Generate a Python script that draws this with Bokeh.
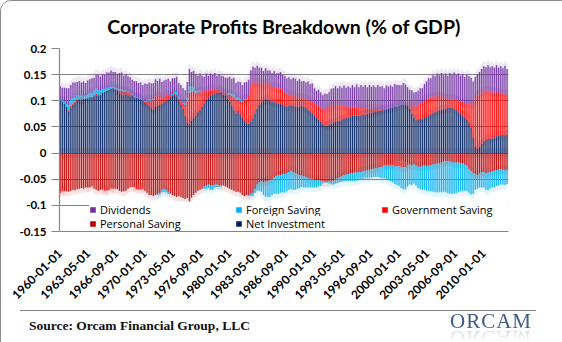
import numpy as np
import pandas as pd
from bokeh.plotting import figure
from bokeh.models import (FixedTicker, Legend, LegendItem, Div, Range1d,
                          NumeralTickFormatter)
from bokeh.layouts import column
from bokeh.embed import file_html
from bokeh.resources import INLINE

# ---------------- DATA (quarterly, 1960Q1 - 2012Q4, share of GDP) ----------------
first_quarter = "1960-01-01"
tick_labels = ["1960-01-01", "1963-05-01", "1966-09-01", "1970-01-01", "1973-05-01",
               "1976-09-01", "1980-01-01", "1983-05-01", "1986-09-01", "1990-01-01",
               "1993-05-01", "1996-09-01", "2000-01-01", "2003-05-01", "2006-09-01",
               "2010-01-01"]

net_investment = [
    .100, .098, .094, .088,  .080, .086, .092, .096,  .100, .102, .101, .103,  .104, .105, .107, .106,
    .108, .110, .109, .111,  .115, .117, .119, .121,  .123, .124, .122, .119,  .114, .111, .110, .112,
    .110, .108, .109, .107,  .106, .105, .103, .100,  .096, .093, .090, .086,  .084, .088, .090, .092,
    .094, .097, .100, .103,  .106, .109, .110, .108,  .100, .092, .085, .072,  .058, .055, .062, .068,
    .072, .078, .082, .088,  .095, .102, .106, .110,  .112, .114, .115, .116,  .115, .112, .110, .104,
    .098, .090, .082, .075,  .080, .074, .068, .062,  .058, .056, .060, .065,  .075, .085, .092, .096,
    .100, .103, .102, .100,  .098, .097, .096, .095,  .094, .092, .090, .089,  .090, .091, .090, .089,
    .088, .089, .090, .088,  .086, .083, .080, .076,  .072, .068, .064, .060,  .055, .052, .052, .054,
    .056, .058, .060, .061,  .062, .064, .066, .067,  .068, .070, .071, .072,  .072, .071, .072, .073,
    .074, .075, .076, .077,  .078, .079, .080, .081,  .082, .083, .084, .085,  .086, .087, .088, .089,
    .090, .092, .093, .093,  .090, .085, .075, .067,  .063, .064, .065, .066,  .067, .069, .072, .074,
    .076, .078, .080, .082,  .083, .084, .085, .086,  .087, .086, .085, .082,  .078, .075, .072, .068,
    .064, .058, .048, .030,  .012, .008, .012, .018,  .022, .025, .027, .028,  .028, .030, .032, .033,
    .034, .035, .034, .035]

personal_saving = [
    -.072, -.070, -.071, -.073,  -.074, -.072, -.070, -.071,  -.069, -.068, -.067, -.068,  -.066, -.065, -.066, -.064,
    -.068, -.070, -.072, -.070,  -.068, -.069, -.070, -.071,  -.066, -.067, -.068, -.069,  -.072, -.074, -.073, -.072,
    -.068, -.066, -.065, -.064,  -.063, -.062, -.064, -.066,  -.072, -.076, -.080, -.080,  -.082, -.080, -.078, -.076,
    -.070, -.068, -.070, -.074,  -.078, -.080, -.082, -.084,  -.082, -.084, -.086, -.088,  -.086, -.092, -.085, -.080,
    -.076, -.072, -.070, -.068,  -.064, -.062, -.060, -.062,  -.062, -.060, -.060, -.061,  -.062, -.062, -.064, -.066,
    -.068, -.070, -.072, -.074,  -.074, -.076, -.080, -.082,  -.080, -.080, -.078, -.076,  -.068, -.060, -.056, -.054,
    -.056, -.055, -.054, -.052,  -.050, -.046, -.044, -.042,  -.042, -.040, -.040, -.038,  -.036, -.034, -.036, -.038,
    -.040, -.042, -.043, -.044,  -.046, -.048, -.049, -.050,  -.051, -.052, -.052, -.053,  -.054, -.056, -.055, -.054,
    -.054, -.053, -.050, -.048,  -.046, -.044, -.042, -.041,  -.040, -.039, -.038, -.037,  -.037, -.036, -.036, -.035,
    -.034, -.033, -.032, -.031,  -.030, -.029, -.028, -.027,  -.026, -.024, -.022, -.020,  -.019, -.018, -.017, -.016,
    -.015, -.015, -.016, -.018,  -.020, -.022, -.024, -.022,  -.024, -.026, -.026, -.025,  -.024, -.025, -.024, -.023,
    -.022, -.021, -.020, -.019,  -.018, -.016, -.015, -.015,  -.016, -.017, -.018, -.018,  -.018, -.019, -.020, -.022,
    -.024, -.030, -.034, -.038,  -.040, -.042, -.038, -.036,  -.036, -.038, -.037, -.036,  -.035, -.034, -.033, -.032,
    -.031, -.032, -.033, -.032]

government_saving = [
    -.004, -.003, -.002, .000,  .002, .004, .003, .002,  .002, .001, .002, .001,  .000, -.001, .000, .001,
    .002, .003, .002, .001,  -.002, -.003, -.002, .000,  -.002, -.001, .000, .002,  .005, .008, .007, .006,
    .006, .005, .002, -.002,  -.006, -.007, -.005, -.003,  .002, .006, .010, .014,  .018, .020, .019, .018,
    .012, .010, .012, .008,  .004, .002, .003, .003,  .004, .006, .010, .020,  .040, .060, .055, .050,
    .042, .038, .035, .030,  .022, .018, .014, .012,  .010, .008, .006, .005,  .004, .003, .005, .008,
    .014, .020, .024, .026,  .022, .025, .030, .040,  .045, .055, .065, .070,  .060, .050, .042, .036,
    .032, .030, .030, .030,  .028, .030, .030, .029,  .030, .030, .026, .025,  .022, .020, .020, .022,
    .018, .017, .016, .016,  .016, .018, .020, .022,  .022, .024, .026, .028,  .030, .032, .034, .034,
    .036, .034, .032, .030,  .028, .026, .024, .022,  .020, .018, .018, .016,  .016, .015, .014, .013,
    .012, .010, .009, .008,  .006, .005, .004, .003,  .002, .000, -.002, -.004,  -.005, -.006, -.008, -.009,
    -.010, -.012, -.011, -.009,  -.004, .005, .015, .022,  .026, .029, .030, .031,  .032, .034, .033, .032,
    .031, .030, .029, .027,  .024, .022, .020, .018,  .016, .017, .018, .020,  .022, .024, .026, .028,
    .032, .038, .046, .060,  .090, .102, .100, .098,  .096, .094, .092, .090,  .088, .086, .085, .082,
    .080, .078, .080, .076]

foreign_saving = [
    .002, .003, .004, .006,  .010, .012, .010, .008,  .008, .007, .007, .006,  .006, .007, .008, .008,
    .009, .010, .009, .008,  .007, .006, .005, .005,  .004, .003, .003, .003,  .004, .003, .003, .002,
    .002, .001, .001, .001,  .001, .001, .001, .001,  .002, .003, .003, .002,  .002, .000, -.002, -.003,
    -.005, -.006, -.005, -.004,  .000, .002, .004, .006,  .004, .002, .001, .003,  .008, .012, .010, .008,
    .005, .003, .002, .000,  -.004, -.006, -.007, -.008,  -.008, -.006, -.005, -.004,  -.002, .000, .001, .002,
    .003, .004, .006, .004,  .005, .004, .003, .002,  .001, -.002, -.004, -.006,  -.008, -.012, -.016, -.020,
    -.024, -.028, -.030, -.032,  -.030, -.032, -.034, -.036,  -.034, -.035, -.036, -.035,  -.034, -.035, -.034, -.032,
    -.028, -.025, -.022, -.022,  -.020, -.018, -.017, -.016,  -.015, -.014, -.012, -.010,  -.004, .000, -.002, -.004,
    -.005, -.007, -.008, -.009,  -.010, -.011, -.012, -.013,  -.014, -.015, -.016, -.016,  -.016, -.015, -.014, -.014,
    -.014, -.015, -.016, -.016,  -.016, -.017, -.018, -.020,  -.022, -.024, -.026, -.028,  -.030, -.032, -.034, -.036,
    -.038, -.040, -.042, -.042,  -.040, -.038, -.037, -.036,  -.038, -.041, -.043, -.045,  -.046, -.047, -.048, -.050,
    -.052, -.054, -.055, -.056,  -.057, -.058, -.060, -.062,  -.062, -.061, -.060, -.059,  -.056, -.054, -.052, -.050,
    -.048, -.046, -.045, -.040,  -.030, -.026, -.028, -.030,  -.030, -.032, -.034, -.032,  -.031, -.032, -.030, -.030,
    -.029, -.028, -.028, -.027]

dividends = [
    .026, .024, .027, .030,  .032, .028, .030, .029,  .026, .028, .025, .027,  .024, .027, .026, .028,
    .025, .027, .030, .026,  .029, .027, .030, .028,  .031, .028, .030, .027,  .030, .032, .028, .031,
    .029, .031, .028, .030,  .030, .028, .031, .029,  .033, .030, .032, .031,  .030, .033, .029, .032,
    .030, .032, .028, .031,  .027, .030, .026, .029,  .026, .030, .028, .025,  .030, .034, .028, .031,
    .032, .029, .033, .030,  .029, .032, .028, .030,  .028, .031, .027, .030,  .029, .032, .028, .030,
    .031, .028, .032, .029,  .030, .033, .029, .031,  .032, .029, .033, .030,  .028, .032, .029, .031,
    .025, .029, .026, .028,  .027, .030, .026, .029,  .031, .028, .032, .029,  .033, .030, .034, .031,
    .032, .035, .031, .034,  .033, .036, .032, .035,  .030, .027, .031, .028,  .026, .030, .027, .029,
    .031, .032, .036, .033,  .038, .035, .039, .036,  .040, .037, .041, .038,  .043, .040, .044, .041,
    .044, .041, .045, .042,  .045, .042, .046, .043,  .044, .041, .045, .042,  .043, .040, .044, .041,
    .040, .037, .041, .038,  .036, .031, .030, .027,  .028, .026, .029, .027,  .033, .034, .038, .037,
    .042, .039, .043, .040,  .046, .043, .047, .044,  .050, .047, .051, .048,  .052, .049, .053, .050,
    .054, .051, .050, .047,  .044, .041, .043, .045,  .048, .045, .049, .046,  .050, .047, .051, .048,
    .052, .049, .053, .050]

series_names = ["Net Investment", "Personal Saving", "Government Saving",
                "Foreign Saving", "Dividends"]
series_colors = ["#002060", "#C00000", "#FF0000", "#00B0F0", "#7030A0"]
series_values = [net_investment, personal_saving, government_saving,
                 foreign_saving, dividends]

# ---------------- derived positions ----------------
n = len(net_investment)
dates = pd.date_range(first_quarter, periods=n, freq="QS-JAN")
x = ((dates.year - 1960) * 12 + (dates.month - 1)).to_numpy().astype(float)
tick_dates = pd.to_datetime(tick_labels)
tick_pos = [int((d.year - 1960) * 12 + d.month - 1) for d in tick_dates]

pos = np.zeros(n)
neg = np.zeros(n)
segments = []
for name, vals, col in zip(series_names, series_values, series_colors):
    v = np.asarray(vals, dtype=float)
    bottom = np.where(v >= 0, pos, neg + v)
    top = np.where(v >= 0, pos + v, neg)
    pos = pos + np.clip(v, 0, None)
    neg = neg + np.clip(v, None, 0)
    segments.append((name, col, bottom, top))

p = figure(width=560, height=304, output_backend="svg", toolbar_location=None,
           x_range=Range1d(-1, 635), y_range=Range1d(-0.15, 0.2),
           min_border_left=58, min_border_right=53, min_border_top=47,
           min_border_bottom=74, background_fill_color="white",
           border_fill_color="white", outline_line_color=None)

# glow halo
for name, col, b, t in segments:
    has = (t - b) > 1e-9
    p.vbar(x=x, bottom=np.where(has, b - 0.009, b), top=np.where(has, t + 0.009, t),
           width=3.6, fill_color=col, fill_alpha=0.09, line_color=None)
# soft fill between bars
for name, col, b, t in segments:
    p.vbar(x=x, bottom=b, top=t, width=3.0, fill_color=col, fill_alpha=0.33,
           line_color=None)
# crisp bars
renderers = {}
for name, col, b, t in segments:
    renderers[name] = p.vbar(x=x, bottom=b, top=t, width=1.2, fill_color=col,
                             fill_alpha=1.0, line_color=None)

# axes
p.xgrid.visible = False
p.ygrid.grid_line_color = "#868686"
p.ygrid.grid_line_width = 1.2
p.yaxis.ticker = FixedTicker(ticks=[-0.15, -0.1, -0.05, 0, 0.05, 0.1, 0.15, 0.2])
p.yaxis.formatter = NumeralTickFormatter(format="0.[00]")
p.yaxis.axis_line_color = "#868686"
p.yaxis.axis_line_width = 1.2
p.yaxis.major_tick_line_color = "#868686"
p.yaxis.major_tick_out = 8
p.yaxis.major_tick_in = 0
p.yaxis.minor_tick_line_color = None
p.yaxis.major_label_standoff = 5
p.yaxis.major_label_text_font = "Lato"
p.yaxis.major_label_text_font_style = "bold"
p.yaxis.major_label_text_font_size = "11.5px"
p.yaxis.major_label_text_color = "black"

p.xaxis.ticker = FixedTicker(ticks=tick_pos)
p.xaxis.major_label_overrides = {tp: lab for tp, lab in zip(tick_pos, tick_labels)}
p.xaxis.major_label_orientation = np.pi / 4
p.xaxis.axis_line_color = "#868686"
p.xaxis.axis_line_width = 1.2
p.xaxis.major_tick_line_color = None
p.xaxis.minor_tick_line_color = None
p.xaxis.major_label_standoff = 14
p.xaxis.major_label_text_font = "Lato"
p.xaxis.major_label_text_font_style = "bold"
p.xaxis.major_label_text_font_size = "12px"
p.xaxis.major_label_text_color = "black"

p.title.text = "Corporate Profits Breakdown (% of GDP)"
p.title.align = "center"
p.title.text_font = "Lato"
p.title.text_font_style = "bold"
p.title.text_font_size = "19.5px"
p.title.text_color = "black"
p.title.standoff = 21

def make_legend(names, loc):
    leg = Legend(items=[LegendItem(label=nm, renderers=[renderers[nm]]) for nm in names],
                 orientation="horizontal", location=loc, padding=0, margin=0,
                 spacing=5, glyph_width=7, glyph_height=7, label_standoff=4,
                 label_width=130, label_height=11, border_line_color=None,
                 background_fill_color="white", background_fill_alpha=1.0,
                 label_text_font="Open Sans", label_text_font_size="11px",
                 label_text_color="black")
    return leg

p.add_layout(make_legend(["Dividends", "Foreign Saving", "Government Saving"], (30, 14)), "center")
p.add_layout(make_legend(["Personal Saving", "Net Investment"], (30, 0)), "center")

footer = Div(width=560, height=36, text=(
    '<div style="position:relative;width:560px;height:36px;overflow:hidden;">'
    '<div style="position:absolute;left:14px;top:0px;width:516px;height:0;'
    'border-top:1.5px solid #7f7f7f;"></div>'
    '<div style="position:absolute;left:23px;top:8px;font-family:\'Liberation Serif\';'
    'font-weight:bold;font-size:13.5px;line-height:16px;color:#111;white-space:nowrap;">'
    'Source: Orcam Financial Group, LLC</div>'
    '<div style="position:absolute;left:444px;top:1px;font-family:\'Liberation Serif\';'
    'font-size:21px;line-height:21px;letter-spacing:1px;color:#3d5b86;'
    '-webkit-box-reflect:below -5px linear-gradient(transparent 35%, rgba(255,255,255,0.35));">'
    'ORCAM</div>'
    '</div>'))

layout = column(p, footer, spacing=0,
                styles={"border": "1px solid #8c8c8c", "border-radius": "11px",
                        "overflow": "hidden", "background": "white"})

open("out.html", "w").write(file_html(layout, INLINE))
